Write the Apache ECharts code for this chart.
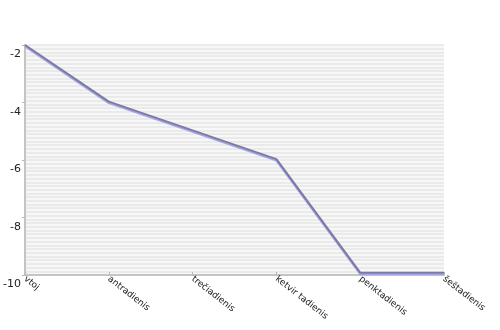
<!DOCTYPE html>
<html><head><meta charset="utf-8">
<script src="https://cdn.jsdelivr.net/npm/echarts@6/dist/echarts.min.js"></script>
<style>html,body{margin:0;padding:0;background:#fff}#c{width:500px;height:330px}</style>
</head><body><div id="c"></div>
<script>
var categories = ["vtoj", "antradienis", "trečiadienis", "ketvir tadienis", "penktadienis", "šeštadienis"];
var values = [-2, -3.97, -4.97, -5.97, -9.92, -9.92];
var yTicks = [-10, -8, -6, -4, -2];

var chart = echarts.init(document.getElementById('c'), null, {renderer: 'canvas'});
chart.setOption({
  animation: false,
  backgroundColor: '#ffffff',
  grid: {left: 25, right: 56, top: 45, bottom: 55, show: true, backgroundColor: '#f7f7f7', borderWidth: 0},
  xAxis: {
    type: 'category', data: categories, boundaryGap: false,
    axisLine: {lineStyle: {color: '#c4c4c4', width: 2}},
    axisTick: {show: true, inside: true, length: 3, lineStyle: {color: '#b8b8b8'}},
    axisLabel: {rotate: -38, fontSize: 9, color: '#222', fontFamily: 'DejaVu Sans', margin: 3, interval: 0},
    splitLine: {show: false}
  },
  yAxis: [{
    type: 'value', min: yTicks[0], max: yTicks[yTicks.length - 1], interval: 2,
    axisLine: {show: true, lineStyle: {color: '#c4c4c4', width: 2}},
    axisTick: {show: true, length: 3, lineStyle: {color: '#b8b8b8'}},
    axisLabel: {fontSize: 11, color: '#222', fontFamily: 'DejaVu Sans', verticalAlign: 'top', padding: [4, 0, 0, 0], margin: 4},
    splitLine: {show: false}
  }, {
    type: 'value', min: 0, max: 62, interval: 1, position: 'right',
    axisLine: {show: false}, axisTick: {show: false}, axisLabel: {show: false},
    splitLine: {show: true, lineStyle: {color: '#e6e6e6', width: 1.5}}
  }],
  series: [{
    type: 'line', data: values, yAxisIndex: 0, showSymbol: false, symbol: 'none',
    lineStyle: {color: '#7a7aa2', width: 2, shadowColor: '#a6a6e6', shadowOffsetY: 1.5, shadowBlur: 0},
    z: 5
  }]
});
</script></body></html>
